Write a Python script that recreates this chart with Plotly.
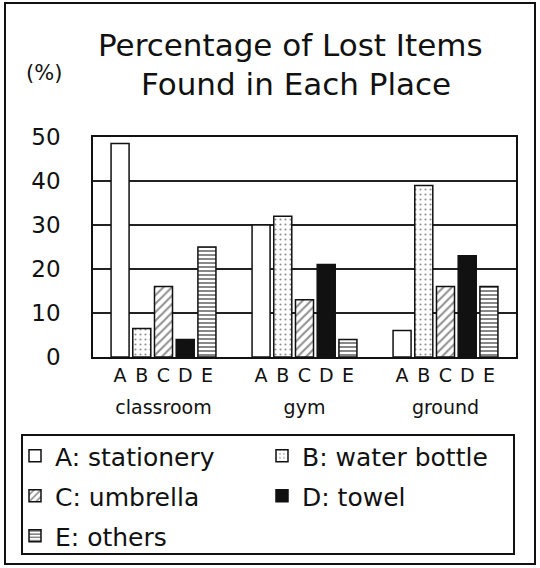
import plotly.graph_objects as go

# ---- data ----
places = ["classroom", "gym", "ground"]
item_letters = ["A", "B", "C", "D", "E"]
item_names = ["stationery", "water bottle", "umbrella", "towel", "others"]
vals_A = [48.5, 30, 6]
vals_B = [6.5, 32, 39]
vals_C = [16, 13, 16]
vals_D = [4, 21, 23]
vals_E = [25, 4, 16]
y_ticks = [0, 10, 20, 30, 40, 50]

# ---- geometry (pixels) ----
W, H = 540, 568
L, R, T, B = 93, 24, 137, 211
PW, PH = W - L - R, H - T - B
BARGAP, GROUPGAP = 0.23, 0.17
FONT = "DejaVu Sans"


def px(x):
    return (x - L) / PW


def py(y):
    return (H - B - y) / PH


series = [vals_A, vals_B, vals_C, vals_D, vals_E]
styles = [
    dict(color="white", pattern=dict(shape="")),
    dict(color="white", pattern=dict(shape=".", fgcolor="#222", bgcolor="white", size=5, solidity=0.15)),
    dict(color="white", pattern=dict(shape="/", fgcolor="#222", bgcolor="white", size=6, solidity=0.35)),
    dict(color="#111", pattern=dict(shape="")),
    dict(color="white", pattern=dict(shape="-", fgcolor="#111", bgcolor="white", size=4, solidity=0.5)),
]
legend_ids = ["legend", "legend2", "legend3", "legend4", "legend5"]
legend_pos = [(55, 456), (302, 456), (55, 496), (302, 496), (55, 536)]

fig = go.Figure()
for k in range(5):
    st = styles[k]
    fig.add_trace(go.Bar(
        x=places, y=series[k],
        name=f"{item_letters[k]}: {item_names[k]}",
        marker=dict(color=st["color"], pattern=st["pattern"],
                    line=dict(color="#111", width=1.5)),
        legend=legend_ids[k],
    ))

slot = (1 - BARGAP) / 5
letter_vals = [i + (k - 2) * slot for i in range(len(places)) for k in range(5)]
letter_text = item_letters * len(places)

layout_legends = {}
for k, (lx, ly) in enumerate(legend_pos):
    layout_legends[legend_ids[k]] = dict(
        x=(lx - 40) / W, y=1 - ly / H, xref="container", yref="container",
        xanchor="left", yanchor="middle", orientation="h",
        font=dict(family=FONT, size=25, color="#111"),
        bgcolor="rgba(0,0,0,0)", borderwidth=0,
    )

fig.update_layout(
    width=W, height=H,
    margin=dict(l=L, r=R, t=T, b=B, pad=0),
    paper_bgcolor="white", plot_bgcolor="white",
    barmode="group", bargap=BARGAP, bargroupgap=GROUPGAP,
    font=dict(family=FONT, color="#111"),
    xaxis=dict(type="category", range=[-0.5, 2.5], showgrid=False,
               showline=True, linecolor="#111", linewidth=1.5, mirror=True,
               ticks="", tickfont=dict(size=19), ticklabelstandoff=32),
    xaxis2=dict(overlaying="x", anchor="y", side="bottom", range=[-0.5, 2.5],
                tickmode="array", tickvals=letter_vals, ticktext=letter_text,
                showgrid=False, zeroline=False, showline=False, ticks="",
                tickfont=dict(size=19), ticklabelstandoff=5),
    yaxis=dict(range=[0, 50], tickvals=y_ticks, showgrid=True,
               gridcolor="#222", gridwidth=1.5, zeroline=False,
               showline=True, linecolor="#111", linewidth=1.5, mirror=True,
               ticks="", tickfont=dict(size=23), ticklabelstandoff=26),
    showlegend=True,
    **layout_legends,
)

# invisible trace so xaxis2 is drawn
fig.add_trace(go.Scatter(x=[letter_vals[0]], y=[0], xaxis="x2", mode="markers",
                         marker=dict(opacity=0), showlegend=False, hoverinfo="skip"))

fig.add_annotation(text="Percentage of Lost Items", x=px(290), y=py(45), xref="paper", yref="paper",
                   xanchor="center", yanchor="middle",
                   showarrow=False, font=dict(family=FONT, size=31, color="#111"))
fig.add_annotation(text="Found in Each Place", x=px(296), y=py(84), xref="paper", yref="paper",
                   xanchor="center", yanchor="middle",
                   showarrow=False, font=dict(family=FONT, size=31, color="#111"))
fig.add_annotation(text="(%)", x=px(44), y=py(73), xref="paper", yref="paper",
                   xanchor="center", yanchor="middle",
                   showarrow=False, font=dict(family=FONT, size=21, color="#111"))

# outer frame and legend box
fig.add_shape(type="rect", xref="paper", yref="paper", x0=px(5), x1=px(535), y0=py(564), y1=py(3),
              line=dict(color="#111", width=2), layer="below")
fig.add_shape(type="rect", xref="paper", yref="paper", x0=px(22), x1=px(514), y0=py(554), y1=py(435),
              line=dict(color="#111", width=2), layer="below")

fig.write_html("out.html", config={"displayModeBar": False},
               post_script="document.body.style.margin='0';")
